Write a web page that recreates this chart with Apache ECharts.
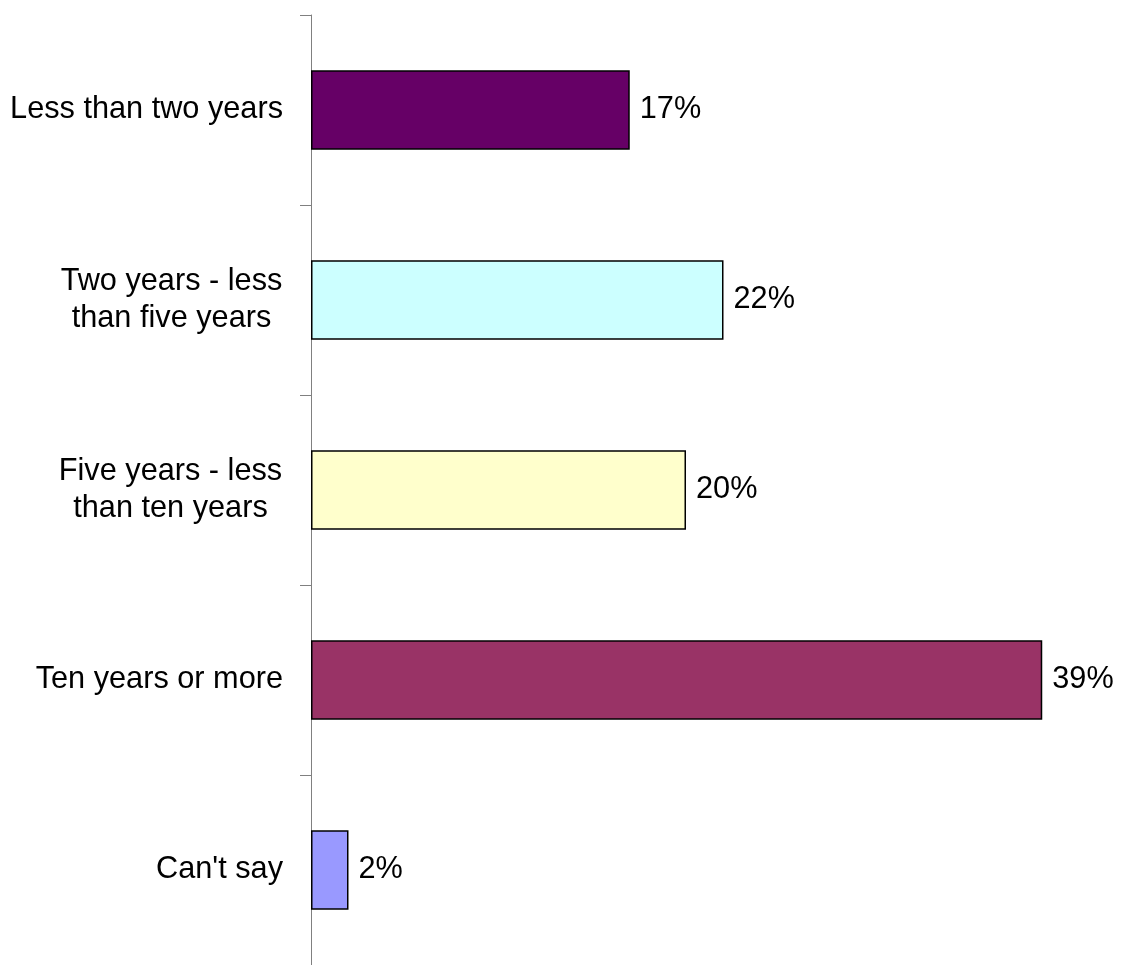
<!DOCTYPE html>
<html>
<head>
<meta charset="utf-8">
<script src="https://cdn.jsdelivr.net/npm/echarts@6/dist/echarts.min.js"></script>
<style>html,body{margin:0;padding:0;background:#fff}#c{width:1121px;height:965px}</style>
</head>
<body>
<div id="c"></div>
<script>
var categories = ["Less than two years", "Two years - less\nthan five years", "Five years - less\nthan ten years", "Ten years or more", "Can't say"];
var values = [17, 22, 20, 39, 2];
var colors = ["#660066", "#CCFFFF", "#FFFFCC", "#993366", "#9999FF"];

var FONT_FAMILY = 'Liberation Sans, Arial, sans-serif';
var FONT_SIZE = 30.7;
var LINE_H = 37;

// measure label lines so multi-line labels are centred within a right-aligned block
var ctx = document.createElement('canvas').getContext('2d');
ctx.font = FONT_SIZE + 'px ' + FONT_FAMILY;
var rich = {};
categories.forEach(function (c, i) {
  var w = 0;
  c.split('\n').forEach(function (l) { w = Math.max(w, ctx.measureText(l).width); });
  rich['r' + i] = {width: Math.ceil(w) + 1, align: 'center', lineHeight: LINE_H,
    fontSize: FONT_SIZE, fontFamily: FONT_FAMILY, color: '#000'};
});

var chart = echarts.init(document.getElementById('c'), null, {renderer: 'canvas'});
chart.setOption({
  backgroundColor: '#ffffff',
  animation: false,
  grid: {left: 311, right: 60, top: 15, bottom: -4, containLabel: false},
  xAxis: {
    type: 'value', min: 0, max: 40, show: false
  },
  yAxis: {
    type: 'category', data: categories, inverse: true,
    axisLine: {show: true, lineStyle: {color: '#808080', width: 1}},
    axisTick: {show: true, length: 11, lineStyle: {color: '#808080', width: 1}},
    axisLabel: {
      color: '#000', fontFamily: FONT_FAMILY, fontSize: FONT_SIZE,
      margin: 28, align: 'right', lineHeight: LINE_H,
      formatter: function (val, idx) {
        var i = categories.indexOf(val);
        if (val.indexOf('\n') < 0) return val;
        return val.split('\n').map(function (l) { return '{r' + i + '|' + l + '}'; }).join('\n');
      },
      rich: rich
    },
    splitLine: {show: false}
  },
  series: [{
    type: 'bar',
    barWidth: '41.8%',
    data: values.map(function (v, i) {
      return {value: v, itemStyle: {color: colors[i]}};
    }),
    itemStyle: {borderColor: '#000', borderWidth: 1.5},
    label: {
      show: true, position: 'right', distance: 10,
      formatter: '{c}%', color: '#000',
      fontFamily: FONT_FAMILY, fontSize: FONT_SIZE
    }
  }]
});
</script>
</body>
</html>
